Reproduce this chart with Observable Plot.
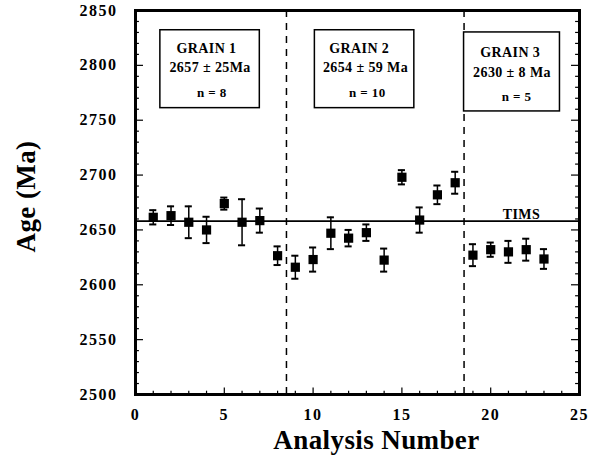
<!DOCTYPE html>
<html><head><meta charset="utf-8">
<script src="https://cdn.jsdelivr.net/npm/d3@7"></script>
<script src="https://cdn.jsdelivr.net/npm/@observablehq/plot@0.6"></script>
<style>
body{margin:0;background:#fff}
#chart svg text{letter-spacing:1.5px;font-family:'Liberation Serif','Times New Roman',serif;font-weight:bold}
#chart svg g[aria-label="text"] text{letter-spacing:0.4px}
</style>
</head><body><div id="chart"></div>
<script>
// ---- data ----
const analysis = [1,2,3,4,5,6,7,8,9,10,11,12,13,14,15,16,17,18,19,20,21,22,23];
const age = [2661.5,2663,2657,2650,2674,2657,2658.5,2626.5,2616,2623,2647,2642.5,2647.5,2622.5,2698,2659,2682,2693,2627,2632,2630,2632,2623.5];
const ageErr = [6.5,8.5,14.5,12,5.5,21,11,8.5,10.5,11,14.5,7.5,7.5,10.5,6.5,11.5,8.5,10,10,6.5,10,10,9];
const grainBoundaries = [8.5, 18.5];
const timsAge = [2658];
const grainNames = ["GRAIN 1","GRAIN 2","GRAIN 3"];
const grainAges = ["2657 ± 25Ma","2654 ± 59 Ma","2630 ± 8 Ma"];
const grainCounts = ["n = 8","n = 10","n = 5"];
const xTicks = [0,5,10,15,20,25];
const yTicks = [2500,2550,2600,2650,2700,2750,2800,2850];

// ---- annotation layout (data units) ----
const boxX1 = [1.4,10.1,18.5], boxX2 = [7.0,15.7,23.9];
const boxY1 = [2761,2761,2758], boxY2 = [2832,2832,2830];
const nameX = [4.0,12.6,21.1], nameY = [2815,2815,2811.5];
const ageX = [4.2,12.95,21.2], ageY = [2798,2798,2793.5];
const cntX = [4.3,13.05,21.45], cntY = [2775,2775,2771];
const timsLabelX = 21.73;

const pts = analysis.map((a,i)=>({a, age: age[i], err: ageErr[i]}));
const boxes = grainNames.map((g,i)=>({x1: boxX1[i], x2: boxX2[i], y1: boxY1[i], y2: boxY2[i]}));
const names = grainNames.map((t,i)=>({t, x: nameX[i], y: nameY[i]}));
const ages = grainAges.map((t,i)=>({t, x: ageX[i], y: ageY[i]}));
const cnts = grainCounts.map((t,i)=>({t, x: cntX[i], y: cntY[i]}));

const xMinor = d3.range(0, 26, 1);
const yMinor = d3.range(2500, 2851, 10);
const serif = "'Liberation Serif','Times New Roman',serif";

const chart = Plot.plot({
  width: 597, height: 458,
  marginLeft: 135, marginRight: 18, marginTop: 10, marginBottom: 64,
  style: {fontFamily: serif, fontSize: "16px", fontWeight: "bold", background: "white", color: "black"},
  x: {domain: [0,25], ticks: xTicks, tickSize: 0, tickPadding: 14, tickFormat: d => String(d), label: null},
  y: {domain: [2500,2850], ticks: yTicks, tickSize: 0, tickPadding: 18, tickFormat: d => String(d), label: null},
  marks: [
    Plot.ruleX(grainBoundaries, {y1: 2500, y2: 2850, strokeWidth: 1.5, strokeDasharray: "7,6"}),
    Plot.ruleY(timsAge, {x1: 0, x2: 25, strokeWidth: 1.6}),
    Plot.text(["TIMS"], {x: timsLabelX, y: timsAge[0], lineAnchor: "bottom", dy: -2, fontSize: 14, fontWeight: "bold", fontFamily: serif}),
    Plot.rect(boxes, {x1: "x1", x2: "x2", y1: "y1", y2: "y2", fill: "white", stroke: "black", strokeWidth: 1.5}),
    Plot.text(names, {x: "x", y: "y", text: "t", fontSize: 14, fontWeight: "bold", fontFamily: serif}),
    Plot.text(ages, {x: "x", y: "y", text: "t", fontSize: 14, fontWeight: "bold", fontFamily: serif}),
    Plot.text(cnts, {x: "x", y: "y", text: "t", fontSize: 13, fontWeight: "bold", fontFamily: serif}),
    // error bars
    Plot.ruleX(pts, {x: "a", y1: d => d.age - d.err, y2: d => d.age + d.err, strokeWidth: 1.5}),
    Plot.ruleY(pts, {y: d => d.age + d.err, x1: d => d.a - 0.2, x2: d => d.a + 0.2, strokeWidth: 2}),
    Plot.ruleY(pts, {y: d => d.age - d.err, x1: d => d.a - 0.2, x2: d => d.a + 0.2, strokeWidth: 2}),
    Plot.dot(pts, {x: "a", y: "age", symbol: "square", r: 5.2, fill: "black"}),
    // inward ticks
    Plot.ruleY(yMinor, {x1: 0, x2: d => d % 50 === 0 ? 0.45 : 0.22, strokeWidth: 1.2}),
    Plot.ruleY(yMinor, {x1: 25, x2: d => d % 50 === 0 ? 24.55 : 24.78, strokeWidth: 1.2}),
    Plot.ruleX(xMinor, {y1: 2500, y2: d => d % 5 === 0 ? 2506 : 2503, strokeWidth: 1.2}),
    Plot.frame({strokeWidth: 3}),
    // axis titles
    Plot.text(["Age (Ma)"], {frameAnchor: "left", textAnchor: "middle", dx: -109, dy: -6, rotate: -90, fontSize: 27, fontWeight: "bold", fontFamily: serif}),
    Plot.text(["Analysis Number"], {frameAnchor: "bottom", textAnchor: "middle", dx: 19, dy: 54, lineAnchor: "bottom", fontSize: 27, fontWeight: "bold", fontFamily: serif})
  ]
});
document.getElementById("chart").appendChild(chart);
</script>
</body></html>
